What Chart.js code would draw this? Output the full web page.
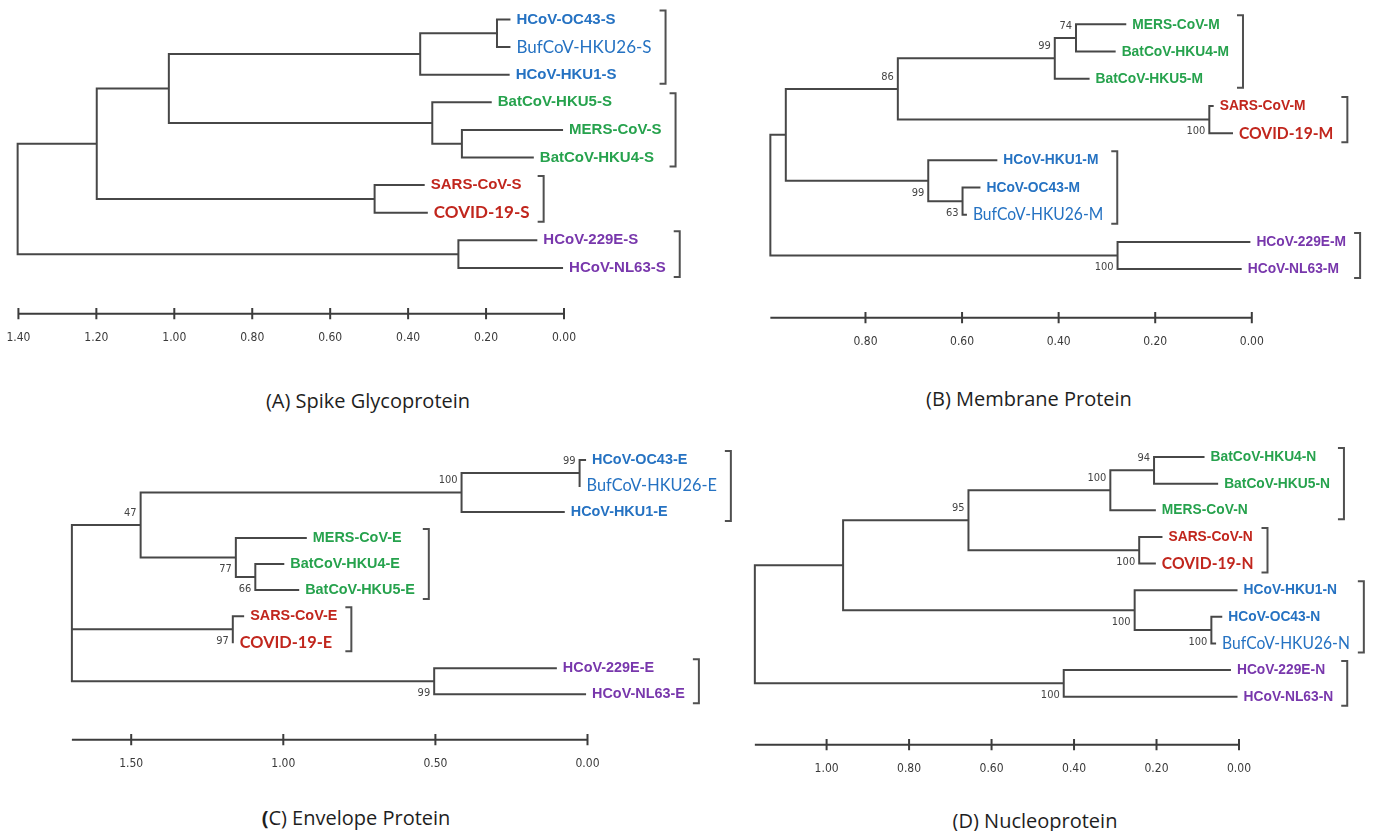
<!DOCTYPE html>
<html lang="en">
<head>
<meta charset="UTF-8">
<title>Phylogenetic trees of coronavirus proteins</title>
<script src="https://cdn.jsdelivr.net/npm/chart.js@4"></script>
<style>
  body { margin: 0; background: #fff; }
  #wrap { position: relative; width: 1373px; height: 831px; overflow: hidden; background: #fff; }
  #wrap canvas { position: absolute; }
  .cap { position: absolute; font: 20px "Open Sans", "Noto Sans", sans-serif; color: #1e1e1e;
         transform: translate(-50%, -50%); white-space: nowrap; }
</style>
</head>
<body>
<div id="wrap">
  <canvas id="treeA"></canvas>
  <canvas id="treeB"></canvas>
  <canvas id="treeC"></canvas>
  <canvas id="treeD"></canvas>
  <div class="cap" style="left:368px;top:400px">(A) Spike Glycoprotein</div>
  <div class="cap" style="left:1029px;top:398px">(B) Membrane Protein</div>
  <div class="cap" style="left:356px;top:817px"><b>(</b>C) Envelope Protein</div>
  <div class="cap" style="left:1035px;top:820px">(D) Nucleoprotein</div>
</div>
<script>
// ---- data: leaf names, clade of each leaf, tip distances, tree [height, children...], bootstrap (pre-order)
const namesA = ['HCoV-OC43-S', 'BufCoV-HKU26-S', 'HCoV-HKU1-S', 'BatCoV-HKU5-S', 'MERS-CoV-S',
                'BatCoV-HKU4-S', 'SARS-CoV-S', 'COVID-19-S', 'HCoV-229E-S', 'HCoV-NL63-S'];
const cladeA = [0, 0, 0, 1, 1, 1, 2, 2, 3, 3];
const tipsA = [0.140, 0.140, 0.142, 0.188, 0.005, 0.080, 0.360, 0.352, 0.071, 0.005];
const treeA = [1.402, [1.199, [1.014, [0.369, [0.172, 0, 1], 2], [0.338, 3, [0.262, 4, 5]]], [0.486, 6, 7]], [0.271, 8, 9]];
const bootA = [];
const ticksA = [1.4, 1.2, 1.0, 0.8, 0.6, 0.4, 0.2, 0];

const namesB = ['MERS-CoV-M', 'BatCoV-HKU4-M', 'BatCoV-HKU5-M', 'SARS-CoV-M', 'COVID-19-M',
                'HCoV-HKU1-M', 'HCoV-OC43-M', 'BufCoV-HKU26-M', 'HCoV-229E-M', 'HCoV-NL63-M'];
const cladeB = [1, 1, 1, 2, 2, 0, 0, 0, 3, 3];
const tipsB = [0.262, 0.284, 0.338, 0.081, 0.041, 0.529, 0.564, 0.592, 0.005, 0.023];
const treeB = [0.997, [0.965, [0.733, [0.408, [0.364, 0, 1], 2], [0.088, 3, 4]], [0.670, 5, [0.599, 6, 7]]], [0.278, 8, 9]];
const bootB = [null, null, 86, 99, 74, 100, 99, 63, 100];
const ticksB = [0.8, 0.6, 0.4, 0.2, 0];

const namesC = ['HCoV-OC43-E', 'BufCoV-HKU26-E', 'HCoV-HKU1-E', 'MERS-CoV-E', 'BatCoV-HKU4-E',
                'BatCoV-HKU5-E', 'SARS-CoV-E', 'COVID-19-E', 'HCoV-229E-E', 'HCoV-NL63-E'];
const cladeC = [0, 0, 0, 1, 1, 1, 2, 2, 3, 3];
const tipsC = [0.008, 0.026, 0.078, 0.926, 1.000, 0.951, 1.132, 1.166, 0.104, 0.008];
const treeC = [1.695, [1.469, [0.414, [0.026, 0, 1], 2], [1.156, 3, [1.092, 4, 5]]], [1.166, 6, 7], [0.504, 8, 9]];
const bootC = [null, 47, 100, 99, 77, 66, 97, 99];
const ticksC = [1.5, 1.0, 0.5, 0];

const namesD = ['BatCoV-HKU4-N', 'BatCoV-HKU5-N', 'MERS-CoV-N', 'SARS-CoV-N', 'COVID-19-N',
                'HCoV-HKU1-N', 'HCoV-OC43-N', 'BufCoV-HKU26-N', 'HCoV-229E-N', 'HCoV-NL63-N'];
const cladeD = [1, 1, 1, 2, 2, 0, 0, 0, 3, 3];
const tipsD = [0.086, 0.053, 0.204, 0.188, 0.204, 0.006, 0.043, 0.058, 0.022, 0.006];
const treeD = [1.174, [0.960, [0.656, [0.312, [0.206, 0, 1], 2], [0.242, 3, 4]], [0.253, 5, [0.067, 6, 7]]], [0.425, 8, 9]];
const bootD = [null, null, 95, 100, 94, 100, 100, 100, 100];
const ticksD = [1.0, 0.8, 0.6, 0.4, 0.2, 0];

// ---- look
const NARROW = '"Liberation Sans Narrow", "DejaVu Sans Condensed", sans-serif';
const cladeColors = ['#2572c2', '#26a24d', '#c1261d', '#7837ac'];
const lineColor = '#474747';
const TICK_SIZE = 12;
const AXIS_H = TICK_SIZE * 1.2 + 2 * 3;

// placement of each panel on the page (pixels)
const panels = [
  { id: 'treeA', names: namesA, clade: cladeA, tips: tipsA, tree: treeA, boots: bootA, ticks: ticksA,
    left: 0, top: 0, width: 730, zeroX: 564, ppu: 389.7, firstY: 20, rowH: 28.33, axisY: 322, sx: 1.0 },
  { id: 'treeB', names: namesB, clade: cladeB, tips: tipsB, tree: treeB, boots: bootB, ticks: ticksB,
    left: 730, top: 0, width: 643, zeroX: 1251.8, ppu: 482.9, firstY: 25, rowH: 27.9, axisY: 326, sx: 0.92 },
  { id: 'treeC', names: namesC, clade: cladeC, tips: tipsC, tree: treeC, boots: bootC, ticks: ticksC,
    left: 0, top: 420, width: 748, zeroX: 587.5, ppu: 304.2, firstY: 461, rowH: 26.7, axisY: 748, sx: 0.96 },
  { id: 'treeD', names: namesD, clade: cladeD, tips: tipsD, tree: treeD, boots: bootD, ticks: ticksD,
    left: 748, top: 420, width: 625, zeroX: 1239, ppu: 412.4, firstY: 458, rowH: 27.3, axisY: 753, sx: 0.92 }
];

function leafFont(name) {
  if (name.startsWith('COVID')) return 'bold 17px Lato, "Open Sans", sans-serif';
  if (name.startsWith('BufCoV')) return '17px Lato, "Open Sans", sans-serif';
  return 'bold 15px "Liberation Sans", Arial, sans-serif';
}

// turn nested tree into elbow segments (null y breaks the line) and internal node list
function buildTree(tree, tips, boots) {
  const segs = [], nodes = [];
  function walk(node, side) {
    if (typeof node === 'number') return node;
    const id = nodes.length;
    nodes.push(null);
    const h = node[0], kids = node.slice(1);
    const ys = kids.map((k, j) => {
      const ky = walk(k, j === 0 ? -1 : 1);
      const kx = typeof k === 'number' ? tips[k] : k[0];
      segs.push({x: h, y: ky}, {x: kx, y: ky}, {x: h, y: null});
      return ky;
    });
    segs.push({x: h, y: ys[0]}, {x: h, y: ys[ys.length - 1]}, {x: h, y: null});
    nodes[id] = {x: h, y: (ys[0] + ys[ys.length - 1]) / 2, boot: boots[id], side};
    return nodes[id].y;
  }
  walk(tree, 0);
  return {segs, nodes};
}

function labelPlugin(p, nodes) {
  return {
    id: 'treeLabels',
    afterDatasetsDraw(chart) {
      const {ctx, scales: {x, y}} = chart;
      ctx.save();
      ctx.textBaseline = 'middle';
      ctx.textAlign = 'left';
      const groups = [];
      p.names.forEach((name, i) => {
        const px = x.getPixelForValue(p.tips[i]) + 7;
        const py = y.getPixelForValue(i);
        ctx.font = leafFont(name);
        ctx.fillStyle = cladeColors[p.clade[i]];
        ctx.save();
        ctx.translate(px, py);
        ctx.scale(p.sx, 1);
        ctx.fillText(name, 0, 0);
        ctx.restore();
        const right = px + ctx.measureText(name).width * p.sx;
        const g = groups[groups.length - 1];
        if (g && g.clade === p.clade[i]) { g.last = i; g.right = Math.max(g.right, right); }
        else groups.push({clade: p.clade[i], first: i, last: i, right});
      });
      // clade brackets
      ctx.strokeStyle = '#505050';
      ctx.lineWidth = 2;
      groups.forEach(g => {
        const bx = g.right + 14;
        const t = y.getPixelForValue(g.first) - 9, b = y.getPixelForValue(g.last) + 9;
        ctx.beginPath();
        ctx.moveTo(bx - 6, t); ctx.lineTo(bx, t); ctx.lineTo(bx, b); ctx.lineTo(bx - 6, b);
        ctx.stroke();
      });
      // bootstrap values
      ctx.font = '11px ' + NARROW;
      ctx.fillStyle = '#444';
      ctx.textAlign = 'right';
      nodes.forEach(n => {
        if (n.boot == null) return;
        ctx.fillText(String(n.boot), x.getPixelForValue(n.x) - 4, y.getPixelForValue(n.y) + n.side * 12);
      });
      ctx.restore();
    }
  };
}

function makeChart(p) {
  const {segs, nodes} = buildTree(p.tree, p.tips, p.boots);
  const areaBottom = p.axisY + 6;
  const height = Math.round(areaBottom + AXIS_H - p.top);
  const canvas = document.getElementById(p.id);
  canvas.width = p.width;
  canvas.height = height;
  canvas.style.left = p.left + 'px';
  canvas.style.top = p.top + 'px';

  const barRow = (p.axisY - p.firstY) / p.rowH;
  const tk = 6 / p.rowH;
  const bar = [{x: p.tree[0], y: barRow}, {x: 0, y: barRow}, {x: 0, y: null}];
  p.ticks.forEach(t => bar.push({x: t, y: barRow - tk}, {x: t, y: barRow + tk}, {x: t, y: null}));

  new Chart(canvas, {
    type: 'scatter',
    data: {
      datasets: [
        { data: segs, showLine: true, borderColor: lineColor, borderWidth: 2, pointRadius: 0,
          borderCapStyle: 'square', spanGaps: false },
        { data: bar, showLine: true, borderColor: '#3c3c3c', borderWidth: 2, pointRadius: 0, spanGaps: false }
      ]
    },
    options: {
      responsive: false,
      animation: false,
      events: [],
      layout: { padding: 0 },
      plugins: { legend: { display: false }, tooltip: { enabled: false } },
      scales: {
        x: {
          type: 'linear', reverse: true,
          min: -(p.left + p.width - p.zeroX) / p.ppu,
          max: (p.zeroX - p.left) / p.ppu,
          afterBuildTicks: s => { s.ticks = p.ticks.map(v => ({value: v})); },
          grid: { display: false },
          border: { display: false },
          ticks: { callback: v => Number(v).toFixed(2), font: { family: NARROW, size: TICK_SIZE }, color: '#3a3a3a',
                   padding: 3, maxRotation: 0, autoSkip: false }
        },
        y: {
          type: 'linear', reverse: true, display: false,
          min: (p.top - p.firstY) / p.rowH,
          max: (areaBottom - p.firstY) / p.rowH
        }
      }
    },
    plugins: [labelPlugin(p, nodes)]
  });
}

panels.forEach(makeChart);
</script>
</body>
</html>
